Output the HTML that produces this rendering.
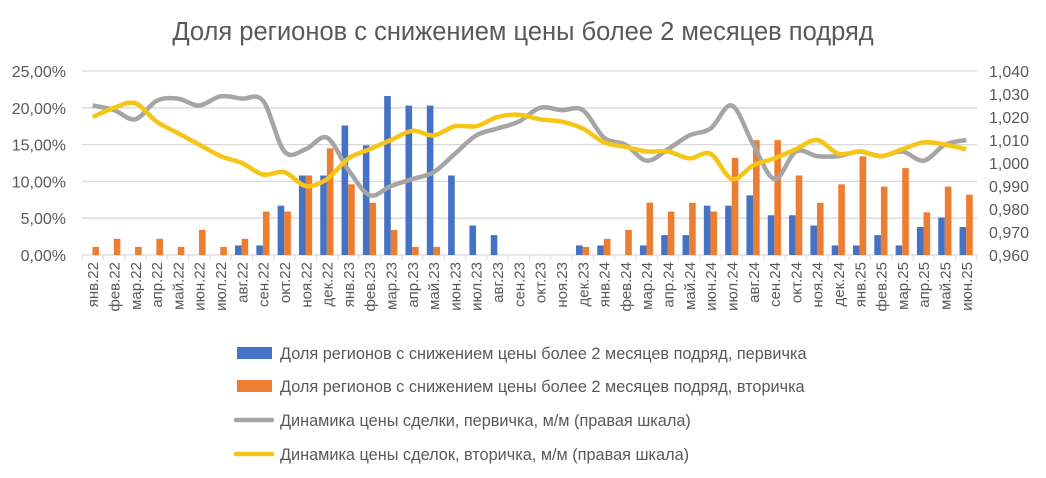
<!DOCTYPE html>
<html><head><meta charset="utf-8"><style>
html,body{margin:0;padding:0;background:#fff;width:1046px;height:478px;overflow:hidden}
svg text{font-family:"Liberation Sans","DejaVu Sans",sans-serif;fill:#595959}
</style></head><body>
<svg id="c" width="1046" height="478" xmlns="http://www.w3.org/2000/svg"></svg>
<script>
const svg=document.getElementById('c');
let h='';
h+='<text x="523" y="40" text-anchor="middle" font-size="25.5">Доля регионов с снижением цены более 2 месяцев подряд</text>';
const L=82,R=977,B=255,T=71,n=42,st=(R-L)/n;
const yl=v=>B-v/25*(B-T), yr=v=>B-(v-0.96)/0.08*(B-T);
for(let i=0;i<=5;i++){const y=yl(i*5);
 h+=`<line x1="${L}" x2="${R}" y1="${y}" y2="${y}" stroke="#d9d9d9" stroke-width="1.3"/>`;
 h+=`<text x="66" y="${y+6}" text-anchor="end" font-size="16">${(i*5).toFixed(2).replace('.',',')}%</text>`;}
for(let i=0;i<=8;i++){const v=0.96+i*0.01;const y=yr(v);
 h+=`<text x="989" y="${y+6}" font-size="16">${v.toFixed(3).replace('.',',')}</text>`;}
for(let i=0;i<=n;i++){const x=L+i*st;h+=`<line x1="${x}" x2="${x}" y1="${B}" y2="${B+5}" stroke="#d9d9d9"/>`;}
const m=['янв','фев','мар','апр','май','июн','июл','авг','сен','окт','ноя','дек'];
const blue=[0,0,0,0,0,0,0,1.3,1.3,6.7,10.8,10.8,17.6,14.9,21.6,20.3,20.3,10.8,4.0,2.7,0,0,0,1.3,1.3,0,1.3,2.7,2.7,6.7,6.7,8.1,5.4,5.4,4.0,1.3,1.3,2.7,1.3,3.8,5.1,3.8];
const org=[1.1,2.2,1.1,2.2,1.1,3.4,1.1,2.2,5.9,5.9,10.8,14.5,9.6,7.1,3.4,1.1,1.1,0,0,0,0,0,0,1.1,2.2,3.4,7.1,5.9,7.1,5.9,13.2,15.6,15.6,10.8,7.1,9.6,13.4,9.3,11.8,5.8,9.3,8.2];
const gray=[1.025,1.023,1.019,1.027,1.028,1.025,1.029,1.028,1.027,1.005,1.006,1.011,0.997,0.986,0.990,0.993,0.996,1.004,1.012,1.015,1.018,1.024,1.023,1.023,1.011,1.008,1.001,1.006,1.012,1.015,1.025,1.008,0.993,1.005,1.003,1.003,1.005,1.003,1.005,1.001,1.008,1.010];
const yel=[1.020,1.024,1.026,1.018,1.013,1.008,1.003,1.000,0.995,0.996,0.990,0.993,1.002,1.006,1.010,1.014,1.012,1.016,1.016,1.020,1.021,1.019,1.018,1.015,1.009,1.007,1.005,1.005,1.002,1.004,0.993,0.999,1.002,1.006,1.010,1.004,1.005,1.003,1.006,1.009,1.008,1.006];
for(let i=0;i<n;i++){const c=L+(i+0.5)*st;const yr_=22+Math.floor(i/12);
 if(blue[i]>0)h+=`<rect x="${c-6.8}" y="${yl(blue[i])}" width="6.6" height="${B-yl(blue[i])}" fill="#4472c4"/>`;
 if(org[i]>0)h+=`<rect x="${c-0.2}" y="${yl(org[i])}" width="6.6" height="${B-yl(org[i])}" fill="#ed7d31"/>`;
 h+=`<text transform="translate(${c+5.5},262) rotate(-90)" text-anchor="end" font-size="15">${m[i%12]}.${yr_}</text>`;}
function path(d){const p=d.map((v,i)=>[L+(i+0.5)*st,yr(v)]);let s=`M${p[0][0]},${p[0][1]}`;
 for(let i=0;i<p.length-1;i++){const p0=p[Math.max(0,i-1)],p1=p[i],p2=p[i+1],p3=p[Math.min(p.length-1,i+2)];
 s+=` C${p1[0]+(p2[0]-p0[0])/6},${p1[1]+(p2[1]-p0[1])/6} ${p2[0]-(p3[0]-p1[0])/6},${p2[1]-(p3[1]-p1[1])/6} ${p2[0]},${p2[1]}`;}return s;}
h+=`<path d="${path(gray)}" fill="none" stroke="#a5a5a5" stroke-width="4.5" stroke-linejoin="round"/>`;
h+=`<path d="${path(yel)}" fill="none" stroke="#f5c518" stroke-width="4.5" stroke-linejoin="round"/>`;
const lg=[['#4472c4','Доля регионов с снижением цены более 2 месяцев подряд, первичка',353,0],['#ed7d31','Доля регионов с снижением цены более 2 месяцев подряд, вторичка',386,0],['#a5a5a5','Динамика цены сделки, первичка, м/м (правая шкала)',420,1],['#f5c518','Динамика цены сделок, вторичка, м/м (правая шкала)',454,1]];
for(const [c,t,y,l] of lg){
 if(l)h+=`<line x1="236" x2="272" y1="${y}" y2="${y}" stroke="${c}" stroke-width="4.5" stroke-linecap="round"/>`;
 else h+=`<rect x="237" y="${y-6}" width="35" height="12" fill="${c}"/>`;
 h+=`<text x="280" y="${y+6}" font-size="16.3">${t}</text>`;}
svg.innerHTML=h;
</script>
</body></html>
